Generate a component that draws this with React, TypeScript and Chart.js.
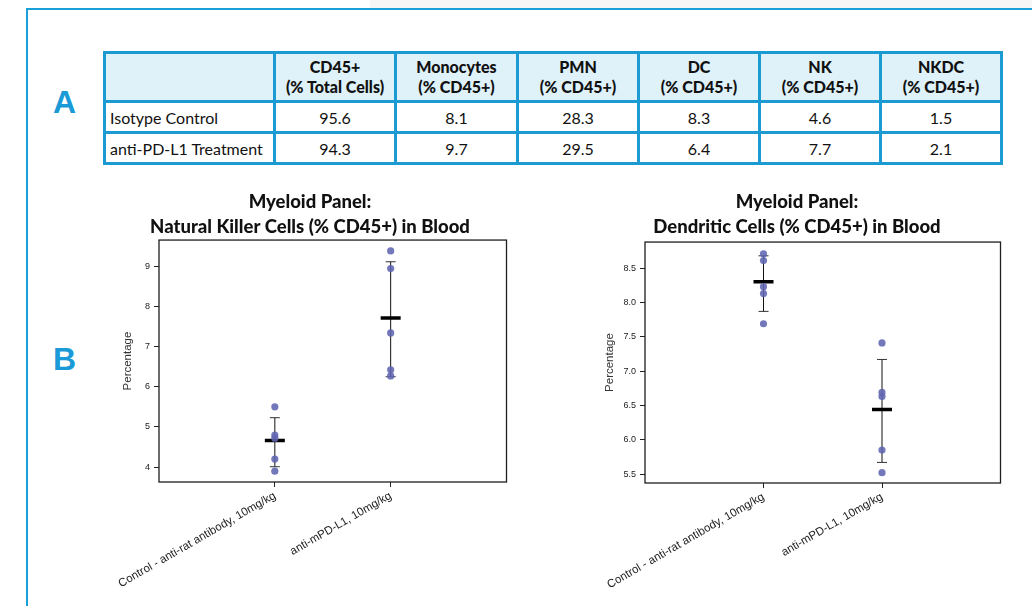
import React, { useEffect, useRef } from "react";
import { Chart, registerables } from "chart.js";

Chart.register(...registerables);

// ---------- Table data ----------
const tableHeaders = [
  "",
  "CD45+\n(% Total Cells)",
  "Monocytes\n(% CD45+)",
  "PMN\n(% CD45+)",
  "DC\n(% CD45+)",
  "NK\n(% CD45+)",
  "NKDC\n(% CD45+)",
];
const tableRowLabels = ["Isotype Control", "anti-PD-L1 Treatment"];
const isotypeValues = ["95.6", "8.1", "28.3", "8.3", "4.6", "1.5"];
const treatmentValues = ["94.3", "9.7", "29.5", "6.4", "7.7", "2.1"];

// ---------- Chart data ----------
const groupLabels = ["Control - anti-rat antibody, 10mg/kg", "anti-mPD-L1, 10mg/kg"];

const nkTitle = ["Myeloid Panel:", "Natural Killer Cells (% CD45+) in Blood"];
const nkControl = [5.5, 4.8, 4.72, 4.2, 3.9];
const nkTreatment = [9.38, 8.94, 7.34, 6.42, 6.27];
const nkMeans = [4.66, 7.71];
const nkErrLow = [4.01, 6.25];
const nkErrHigh = [5.23, 9.11];
const nkTicks = [4, 5, 6, 7, 8, 9];
const nkRange = [3.63, 9.65];

const dcTitle = ["Myeloid Panel:", "Dendritic Cells (% CD45+) in Blood"];
const dcControl = [8.71, 8.61, 8.23, 8.13, 7.69];
const dcTreatment = [7.41, 6.69, 6.63, 5.85, 5.52];
const dcMeans = [8.3, 6.44];
const dcErrLow = [7.87, 5.67];
const dcErrHigh = [8.68, 7.17];
const dcTicks = [5.5, 6.0, 6.5, 7.0, 7.5, 8.0, 8.5];
const dcRange = [5.37, 8.88];

const framePlugin = {
  id: "frame",
  afterDatasetsDraw(chart: any) {
    const { ctx, chartArea } = chart;
    const { left, top, right, bottom } = chartArea;
    ctx.save();
    ctx.strokeStyle = "#1e1e1e";
    ctx.lineWidth = 1.3;
    ctx.strokeRect(left, top, right - left, bottom - top);
    ctx.restore();
  },
};

type PanelProps = {
  title: string[];
  control: number[];
  treatment: number[];
  means: number[];
  errLow: number[];
  errHigh: number[];
  ticks: number[];
  range: number[];
  decimals: number;
  left: number;
  top: number;
  width: number;
  height: number;
  yAxisWidth: number;
  xAxisHeight: number;
  yTitlePad: number;
  titlePadBottom: number;
};

function Panel(p: PanelProps) {
  const ref = useRef<HTMLCanvasElement | null>(null);
  useEffect(() => {
    if (!ref.current) return;
    const groups = [p.control, p.treatment];
    const pointData: any[] = [];
    groups.forEach((g, i) => g.forEach((y) => pointData.push({ x: i + 1, y })));
    const meanData = p.means.map((y, i) => ({ x: i + 1, y }));
    const errData: any[] = [];
    p.means.forEach((_, i) => {
      errData.push({ x: i + 1, y: p.errLow[i] });
      errData.push({ x: i + 1, y: p.errHigh[i] });
      errData.push({ x: i + 1.5, y: null });
    });
    const tickFontY = { family: "'Liberation Sans', Arial, sans-serif", size: 9 };
    const tickFontX = { family: "'Liberation Sans', Arial, sans-serif", size: 11.5 };
    const chart = new Chart(ref.current, {
      type: "scatter",
      data: {
        datasets: [
          {
            type: "scatter",
            label: "values",
            data: pointData,
            pointBackgroundColor: "rgba(96,101,178,0.88)",
            pointBorderWidth: 0,
            pointRadius: 3.6,
            order: 1,
          } as any,
          {
            type: "scatter",
            label: "mean",
            data: meanData,
            pointStyle: "line",
            pointRadius: 10,
            pointBorderColor: "#000",
            pointBorderWidth: 3.5,
            order: 2,
          } as any,
          {
            type: "line",
            label: "sd",
            data: errData,
            borderColor: "#111",
            borderWidth: 1,
            pointStyle: "line",
            pointRadius: 5,
            pointBorderColor: "#333",
            pointBorderWidth: 1,
            spanGaps: false,
            showLine: true,
            order: 3,
          } as any,
        ],
      },
      options: {
        responsive: false,
        animation: false,
        events: [],
        devicePixelRatio: 1,
        layout: { padding: 0 },
        plugins: {
          legend: { display: false },
          tooltip: { enabled: false },
          title: {
            display: true,
            text: p.title,
            color: "#111",
            font: { family: "Lato, 'Open Sans', sans-serif", weight: "900", size: 18.5, lineHeight: 1.38 },
            padding: { top: 4, bottom: p.titlePadBottom },
          },
        },
        scales: {
          x: {
            type: "linear",
            min: 0,
            max: 3,
            afterBuildTicks: (s: any) => {
              s.ticks = [1, 2].map((v) => ({ value: v }));
            },
            afterFit: (s: any) => {
              s.height = p.xAxisHeight;
              s.paddingLeft = 0;
              s.paddingRight = 0;
            },
            ticks: {
              autoSkip: false,
              minRotation: 30,
              maxRotation: 30,
              padding: 2,
              color: "#222",
              font: tickFontX,
              callback: (v: any) => groupLabels[Math.round(v) - 1] ?? "",
            },
            grid: { display: true, drawOnChartArea: false, drawTicks: true, tickLength: 5, color: "#222" },
            border: { display: false },
          },
          y: {
            type: "linear",
            min: p.range[0],
            max: p.range[1],
            afterBuildTicks: (s: any) => {
              s.ticks = p.ticks.map((v) => ({ value: v }));
            },
            afterFit: (s: any) => {
              s.width = p.yAxisWidth;
              s.paddingTop = 0;
              s.paddingBottom = 0;
            },
            ticks: {
              padding: 4,
              color: "#222",
              font: tickFontY,
              callback: (v: any) => Number(v).toFixed(p.decimals),
            },
            grid: { display: true, drawOnChartArea: false, drawTicks: true, tickLength: 5, color: "#222" },
            border: { display: false },
            title: {
              display: true,
              text: "Percentage",
              color: "#333",
              font: { family: "'Liberation Sans', Arial, sans-serif", size: 11.5 },
              padding: { top: p.yTitlePad, bottom: 0 },
            },
          },
        },
      } as any,
      plugins: [framePlugin],
    });
    return () => chart.destroy();
  }, []);
  return (
    <canvas
      ref={ref}
      width={p.width}
      height={p.height}
      style={{ position: "absolute", left: p.left, top: p.top, width: p.width, height: p.height }}
    />
  );
}

const cellBorder = "3px solid #1b9bd1";

export default function App() {
  const thStyle: React.CSSProperties = {
    border: cellBorder,
    background: "#dff2fa",
    fontWeight: 900,
    textAlign: "center",
    whiteSpace: "pre-line",
    padding: 0,
    lineHeight: "20px",
  };
  const tdStyle: React.CSSProperties = {
    border: cellBorder,
    textAlign: "center",
    padding: 0,
    height: 28,
  };
  const colWidths = [170, 121, 122, 121, 121, 121, 121];
  return (
    <div
      style={{
        position: "absolute",
        left: 0,
        top: 0,
        width: 1032,
        height: 606,
        overflow: "hidden",
        background: "#fff",
      }}
    >
      <div style={{ position: "absolute", left: 370, top: 0, width: 662, height: 8, background: "#f6f6f6" }} />
      <div
        style={{
          position: "absolute",
          left: 26,
          top: 8,
          width: 1010,
          height: 610,
          borderTop: "2px solid #1aa0d8",
          borderLeft: "2px solid #1aa0d8",
        }}
      />
      <div
        style={{
          position: "absolute",
          left: 53,
          top: 86,
          fontFamily: "'Liberation Sans', Arial, sans-serif",
          fontWeight: "bold",
          fontSize: 32,
          lineHeight: "32px",
          color: "#1a9ad6",
        }}
      >
        A
      </div>
      <div
        style={{
          position: "absolute",
          left: 53,
          top: 343,
          fontFamily: "'Liberation Sans', Arial, sans-serif",
          fontWeight: "bold",
          fontSize: 32,
          lineHeight: "32px",
          color: "#1a9ad6",
        }}
      >
        B
      </div>
      <table
        style={{
          position: "absolute",
          left: 103,
          top: 51,
          borderCollapse: "collapse",
          tableLayout: "fixed",
          width: 897,
          fontFamily: "Lato, 'Open Sans', sans-serif",
          fontSize: 16,
          color: "#111",
        }}
      >
        <colgroup>
          {colWidths.map((w, i) => (
            <col key={i} style={{ width: w }} />
          ))}
        </colgroup>
        <thead>
          <tr style={{ height: 49 }}>
            {tableHeaders.map((h, i) => (
              <th key={i} style={thStyle}>
                {h}
              </th>
            ))}
          </tr>
        </thead>
        <tbody>
          {[isotypeValues, treatmentValues].map((row, r) => (
            <tr key={r}>
              <td style={{ ...tdStyle, textAlign: "left", paddingLeft: 4 }}>{tableRowLabels[r]}</td>
              {row.map((v, i) => (
                <td key={i} style={tdStyle}>
                  {v}
                </td>
              ))}
            </tr>
          ))}
        </tbody>
      </table>
      <Panel
        title={nkTitle}
        control={nkControl}
        treatment={nkTreatment}
        means={nkMeans}
        errLow={nkErrLow}
        errHigh={nkErrHigh}
        ticks={nkTicks}
        range={nkRange}
        decimals={0}
        left={100}
        top={185}
        width={420}
        height={421}
        yAxisWidth={59}
        xAxisHeight={124}
        yTitlePad={21}
        titlePadBottom={0}
      />
      <Panel
        title={dcTitle}
        control={dcControl}
        treatment={dcTreatment}
        means={dcMeans}
        errLow={dcErrLow}
        errHigh={dcErrHigh}
        ticks={dcTicks}
        range={dcRange}
        decimals={1}
        left={580}
        top={185}
        width={434}
        height={421}
        yAxisWidth={65}
        xAxisHeight={123}
        yTitlePad={23}
        titlePadBottom={2}
      />
    </div>
  );
}
